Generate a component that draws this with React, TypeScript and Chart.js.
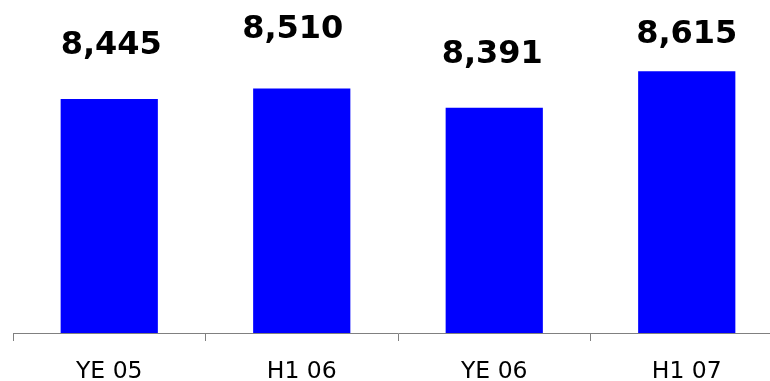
import React, { useEffect, useRef } from "react";
import { Chart, registerables } from "chart.js";

Chart.register(...registerables);

// Period labels and totals
const periods = ["YE 05", "H1 06", "YE 06", "H1 07"];
const totals = [8445, 8510, 8391, 8615];

// Value axis range
const axisMin = 7000;
const axisMax = 9000;

// Hand-placed value labels: lift above the bar top and sideways nudge (px)
const labelLift = [45, 50, 45, 28];
const labelNudge = [2, -9, -2, 0];

const valueLabels = {
  id: "valueLabels",
  afterDatasetsDraw(chart: Chart) {
    const ctx = chart.ctx;
    const meta = chart.getDatasetMeta(0);
    ctx.save();
    ctx.font = "bold 32px 'DejaVu Sans', Verdana, sans-serif";
    ctx.fillStyle = "#000000";
    ctx.textAlign = "center";
    ctx.textBaseline = "alphabetic";
    meta.data.forEach((bar: any, i: number) => {
      const v = totals[i];
      ctx.fillText(v.toLocaleString("en-US"), bar.x + labelNudge[i], bar.y - labelLift[i]);
    });
    ctx.restore();
  },
};

export default function App() {
  const canvasRef = useRef<HTMLCanvasElement | null>(null);

  useEffect(() => {
    const canvas = canvasRef.current;
    if (!canvas) return;
    const chart = new Chart(canvas, {
      type: "bar",
      data: {
        labels: periods,
        datasets: [
          {
            data: totals,
            backgroundColor: "#0000FF",
            borderWidth: 0,
            categoryPercentage: 1,
            barPercentage: 0.505,
          },
        ],
      },
      options: {
        responsive: false,
        animation: false,
        devicePixelRatio: 1,
        layout: { padding: { left: 13, right: 1, top: 9, bottom: 0 } },
        plugins: {
          legend: { display: false },
          tooltip: { enabled: false },
        },
        scales: {
          x: {
            grid: {
              display: true,
              drawOnChartArea: false,
              drawTicks: true,
              tickLength: 8,
              color: "#808080",
              offset: true,
            },
            border: { display: true, color: "#808080", width: 1 },
            ticks: {
              color: "#000000",
              padding: 17,
              font: { family: "'DejaVu Sans', Verdana, sans-serif", size: 23.5 },
              maxRotation: 0,
            },
            afterFit(scale: any) {
              scale.height = 48;
            },
          },
          y: {
            display: false,
            min: axisMin,
            max: axisMax,
          },
        },
      },
      plugins: [valueLabels],
    });
    return () => chart.destroy();
  }, []);

  return (
    <div
      style={{
        position: "fixed",
        left: 0,
        top: 0,
        width: 770,
        height: 381,
        overflow: "hidden",
        background: "#ffffff",
      }}
    >
      <canvas ref={canvasRef} width={784} height={381} style={{ display: "block" }} />
    </div>
  );
}
